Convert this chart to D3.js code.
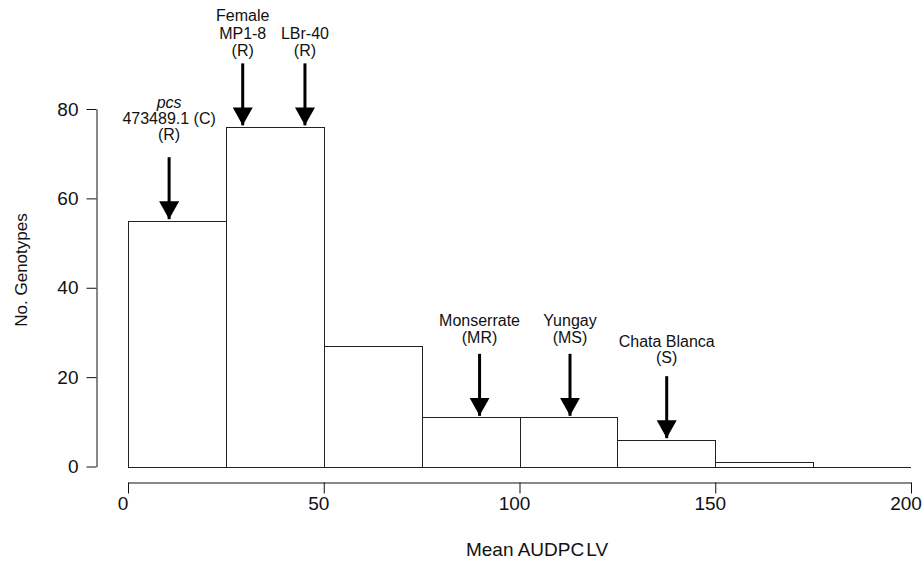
<!DOCTYPE html>
<html>
<head>
<meta charset="utf-8">
<script src="https://cdn.jsdelivr.net/npm/d3@7"></script>
<style>
  body { margin: 0; background: #fff; }
  svg { font-family: "Liberation Sans", Arial, sans-serif; }
</style>
</head>
<body>
<svg id="chart" width="922" height="563"></svg>
<script>
// Histogram data: bin edges and counts
const binEdges = [0, 25, 50, 75, 100, 125, 150, 175, 200];
const counts = [55, 76, 27, 11, 11, 6, 1, 0];

// Tick labels
const xTicks = [0, 50, 100, 150, 200];
const yTicks = [0, 20, 40, 60, 80];

// Cultivar annotations: label lines, position on x, and the count of the bar they point at
const annotLines = [
  ["pcs", "473489.1 (C)", "(R)"],
  ["Female", "MP1-8", "(R)"],
  ["LBr-40", "(R)"],
  ["Monserrate", "(MR)"],
  ["Yungay", "(MS)"],
  ["Chata Blanca", "(S)"]
];
const annotX = [10.5, 29.3, 45.2, 89.8, 112.9, 137.6];
const annotCount = [55, 76, 76, 11, 11, 6];

// Layout
const labelGap = [17, 7, 7, 11, 11, 13];
const lineStep = [16, 17.5, 17.5, 17, 17, 16.5];
const arrowLen = 62;

const svg = d3.select("#chart");

const x = d3.scaleLinear().domain([0, 200]).range([128, 911]);
const y = d3.scaleLinear().domain([0, 80]).range([466.5, 109]);

const bins = counts.map((c, i) => ({ x0: binEdges[i], x1: binEdges[i + 1], n: c }));

// Bars
svg.append("g")
  .selectAll("rect")
  .data(bins.filter(d => d.n > 0))
  .join("rect")
  .attr("x", d => Math.round(x(d.x0)) + 0.5)
  .attr("y", d => Math.round(y(d.n)) + 0.5)
  .attr("width", d => Math.round(x(d.x1)) - Math.round(x(d.x0)))
  .attr("height", d => Math.round(y(0)) - Math.round(y(d.n)))
  .attr("fill", "#fff")
  .attr("stroke", "#222")
  .attr("stroke-width", 1);

// Baseline of the histogram
svg.append("line")
  .attr("x1", x(0)).attr("x2", x(200))
  .attr("y1", Math.round(y(0)) + 0.5).attr("y2", Math.round(y(0)) + 0.5)
  .attr("stroke", "#222");

// X axis
const xAxis = svg.append("g")
  .attr("transform", "translate(0,482.5)")
  .call(d3.axisBottom(x).tickValues(xTicks).tickSize(11).tickSizeOuter(0).tickFormat(d3.format("d")));
xAxis.select(".domain").attr("stroke", "#111");
xAxis.selectAll(".tick line").attr("stroke", "#111");
xAxis.selectAll(".tick text")
  .attr("font-size", 19)
  .attr("fill", "#111")
  .attr("dx", -5.5)
  .attr("y", 27)
  .attr("dy", null);

// Y axis
const yAxis = svg.append("g")
  .attr("transform", "translate(96.5,0)")
  .call(d3.axisLeft(y).tickValues(yTicks).tickSize(10).tickSizeOuter(0).tickPadding(8));
yAxis.select(".domain").attr("stroke", "#111");
yAxis.selectAll(".tick line").attr("stroke", "#111");
yAxis.selectAll(".tick text").attr("font-size", 19).attr("fill", "#111");

// Axis titles
const xTitle = svg.append("text")
  .attr("x", 537).attr("y", 556)
  .attr("text-anchor", "middle")
  .attr("font-size", 19)
  .attr("fill", "#111")
  .text("Mean AUDPC");
xTitle.append("tspan").attr("dx", 2).text("LV");

svg.append("text")
  .attr("transform", "translate(27,270) rotate(-90)")
  .attr("text-anchor", "middle")
  .attr("font-size", 17)
  .attr("fill", "#111")
  .text("No. Genotypes");

// Arrow head marker
svg.append("defs").append("marker")
  .attr("id", "head")
  .attr("viewBox", "0 0 18 20")
  .attr("refX", 18).attr("refY", 10)
  .attr("markerWidth", 18).attr("markerHeight", 20)
  .attr("markerUnits", "userSpaceOnUse")
  .attr("orient", "auto")
  .append("path")
  .attr("d", "M0,0L18,10L0,20Z")
  .attr("fill", "#000");

// Annotations
annotLines.forEach((lines, i) => {
  const ax = x(annotX[i]);
  const tip = y(annotCount[i]) - 1.5;
  const top = tip - arrowLen;

  svg.append("line")
    .attr("x1", ax).attr("x2", ax)
    .attr("y1", top).attr("y2", tip)
    .attr("stroke", "#000")
    .attr("stroke-width", 3)
    .attr("marker-end", "url(#head)");

  const lastBase = top - labelGap[i];
  lines.forEach((t, j) => {
    svg.append("text")
      .attr("x", ax)
      .attr("y", lastBase - (lines.length - 1 - j) * lineStep[i])
      .attr("text-anchor", "middle")
      .attr("font-size", 16)
      .attr("fill", "#111")
      .attr("font-style", t === "pcs" ? "italic" : null)
      .text(t);
  });
});
</script>
</body>
</html>
